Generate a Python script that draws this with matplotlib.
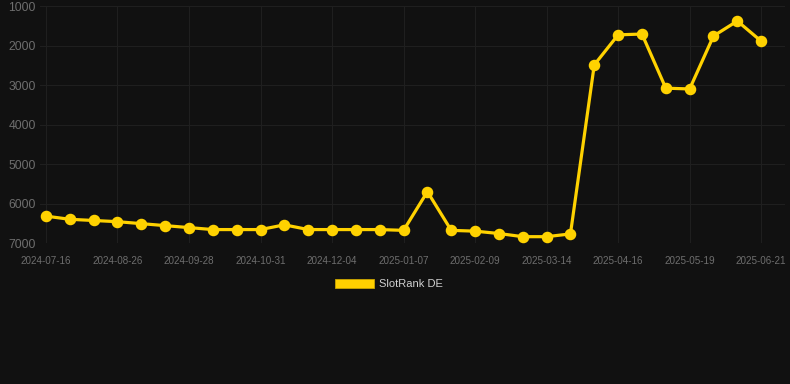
import matplotlib
matplotlib.use("Agg")
import matplotlib.pyplot as plt
from matplotlib.patches import Patch

plt.rcParams['font.family'] = ['Liberation Sans', 'DejaVu Sans']

# rank per snapshot (lower is better), one value per date point
ranks = [6320, 6400, 6430, 6460, 6510, 6560, 6610, 6660, 6660, 6660, 6540,
         6660, 6660, 6660, 6660, 6680, 5700, 6680, 6700, 6760, 6840, 6840,
         6770, 2490, 1730, 1710, 3080, 3100, 1760, 1380, 1890]

# only every third date is labelled on the axis
tick_labels = ['2024-07-16', '2024-08-26', '2024-09-28', '2024-10-31',
               '2024-12-04', '2025-01-07', '2025-02-09', '2025-03-14',
               '2025-04-16', '2025-05-19', '2025-06-21']
y_ticks = [1000, 2000, 3000, 4000, 5000, 6000, 7000]

bg = '#111111'
gold = '#FFD200'
grey = '#6e6e6e'

fig = plt.figure(figsize=(7.9, 3.84), dpi=100, facecolor=bg)
ax = fig.add_axes([40 / 790, (384 - 243) / 384, 745 / 790, 237 / 384])
ax.set_facecolor(bg)

x = list(range(len(ranks)))
ax.plot(x, ranks, color=gold, lw=2.3, marker='o', markersize=7.3,
        markerfacecolor=gold, markeredgecolor=gold, zorder=3)

ax.set_ylim(7000, 1000)
ax.set_xlim(-0.25, len(ranks) - 0.0)
ax.set_yticks(y_ticks)
ax.set_yticklabels([str(v) for v in y_ticks])
ax.set_xticks(x[::3])
ax.set_xticklabels(tick_labels)

ax.grid(True, color='#1f1f1f', lw=0.8)
for s in ax.spines.values():
    s.set_visible(False)
ax.tick_params(axis='both', length=0, colors=grey)
ax.tick_params(axis='y', labelsize=8.7, pad=3)
ax.tick_params(axis='x', labelsize=7.1, pad=9)

handle = Patch(facecolor='#FFD000', edgecolor='#c9a400', lw=0.6)
leg = fig.legend([handle], ['SlotRank DE'], loc='center',
                 bbox_to_anchor=(389 / 790, 1 - 284 / 384), frameon=False,
                 fontsize=8, handlelength=3.5, handleheight=0.9,
                 handletextpad=0.5)
for t in leg.get_texts():
    t.set_color('#d0d0d0')

fig.savefig('out.png', dpi=100, facecolor=bg)
